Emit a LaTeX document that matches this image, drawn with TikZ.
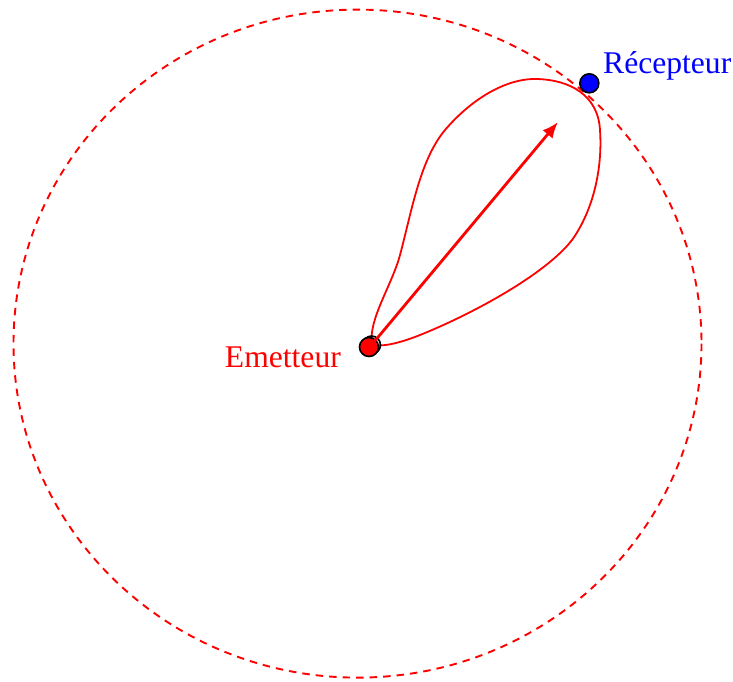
\documentclass[tikz,border=0pt]{standalone}
\usepackage{fontspec}
\setmainfont{Liberation Serif}
\usetikzlibrary{arrows.meta}
\begin{document}
\begin{tikzpicture}[x=1pt,y=-1pt,
  lbl/.style={font=\fontsize{31.6}{36}\selectfont, inner sep=0pt},
  dotnode/.style={circle, draw=black, line width=1.6pt, minimum size=19pt, inner sep=0pt}]
\useasboundingbox (0,0) rectangle (733,682);
% dashed boundary
\draw[red, line width=1.9pt, dash pattern=on 7.5pt off 6pt] (357.5,343.6) ellipse [x radius=344, y radius=334];
% lobe
\coordinate (s) at (372,344);
\draw[red, line width=1.8pt] (s)
 .. controls (368,320) and (392,285) .. (400,255)
 .. controls (412,210) and (420,160) .. (445,130)
 .. controls (475,95) and (510,78) .. (537,79)
 .. controls (570,80) and (598,95) .. (600,130)
 .. controls (603,175) and (590,215) .. (572,240)
 .. controls (545,275) and (470,315) .. (420,335)
 .. controls (400,343) and (380,348) .. (s);
% nodes
\node[dotnode, fill=none, minimum size=18pt] (e2) at (371.5,345) {};
\node[dotnode, fill=red] (e) at (369,347) {};
\node[dotnode, fill=blue] (r) at (589.3,83.3) {};
\coordinate (tip) at (558,122);
\draw[red, line width=2.8pt, -{Latex[length=16pt,width=13pt]}] (e2.center) -- (tip);
\node[lbl, red, anchor=east] (el) at (341,357) {Emetteur};
\node[lbl, blue, anchor=west] (rl) at (603,66) {Récepteur};
\end{tikzpicture}
\end{document}
